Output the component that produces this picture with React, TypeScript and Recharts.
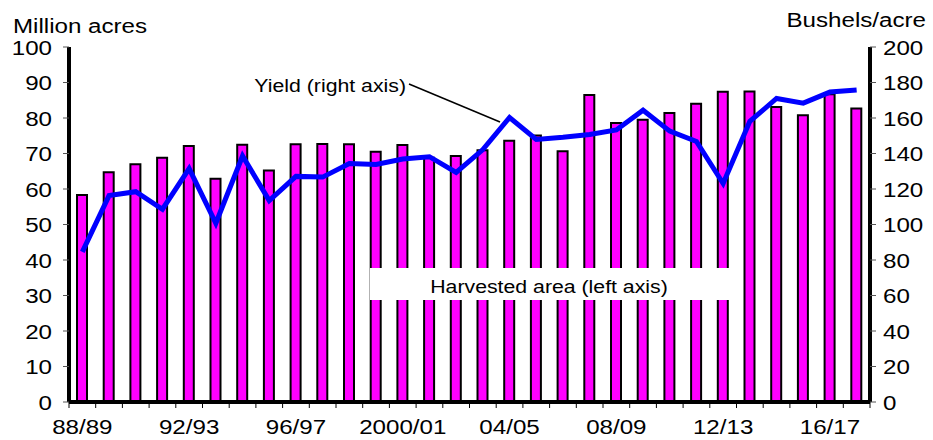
import React from "react";
import { Bar, ComposedChart, Line, XAxis, YAxis } from "recharts";

// Marketing years, every 4th one is labelled on the axis.
const years = [
  "88/89", "89/90", "90/91", "91/92", "92/93", "93/94", "94/95", "95/96",
  "96/97", "97/98", "98/99", "99/00", "2000/01", "01/02", "02/03", "03/04",
  "04/05", "05/06", "06/07", "07/08", "08/09", "09/10", "10/11", "11/12",
  "12/13", "13/14", "14/15", "15/16", "16/17", "17/18",
];

// Harvested area, million acres (left axis)
const harvestedArea = [
  58.3, 64.7, 67.0, 68.8, 72.1, 62.9, 72.5, 65.2, 72.6, 72.7, 72.6, 70.5,
  72.4, 68.8, 69.3, 70.9, 73.6, 75.1, 70.6, 86.5, 78.6, 79.5, 81.4, 84.0,
  87.4, 87.5, 83.1, 80.8, 86.7, 82.7,
];

// Yield, bushels/acre (right axis)
const yieldPerAcre = [
  84.6, 116.3, 118.5, 108.6, 131.5, 100.7, 138.6, 113.5, 127.1, 126.7, 134.4,
  133.8, 136.9, 138.2, 129.3, 142.2, 160.3, 147.9, 149.1, 150.7, 153.3, 164.4,
  152.6, 146.8, 123.1, 158.1, 171.0, 168.4, 174.6, 175.8,
];

const leftTicks = [0, 10, 20, 30, 40, 50, 60, 70, 80, 90, 100];
const rightTicks = [0, 20, 40, 60, 80, 100, 120, 140, 160, 180, 200];

const data = years.map((year, i) => ({
  year,
  area: harvestedArea[i],
  yield: yieldPerAcre[i],
}));

const FONT = "'Liberation Sans', Arial, sans-serif";
const AXIS_FS = 21;
const NOTE_FS = 18.5;
// the original picture is a bit wider than tall, text included
const STRETCH = 1.15;

function Stretched(props: any) {
  const { x, y, anchor = "start", size = AXIS_FS, dy, children } = props;
  return (
    <text
      transform={`translate(${x} ${y}) scale(${STRETCH} 1)`}
      textAnchor={anchor}
      fontSize={size}
      fontFamily={FONT}
      fill="#000"
      dy={dy}
    >
      {children}
    </text>
  );
}

// tick marks sit on the category boundaries, labels under every 4th bar
function YearTick(props: any) {
  const { x, y, payload, index } = props;
  const off = payload && payload.offset ? payload.offset : 13.35;
  const last = index === years.length - 1;
  return (
    <g>
      <line x1={x - off} x2={x - off} y1={y} y2={y + 6} stroke="#000" strokeWidth={1} />
      {last && <line x1={x + off} x2={x + off} y1={y} y2={y + 6} stroke="#000" strokeWidth={1} />}
      {index % 4 === 0 && (
        <Stretched x={x} y={y + 32} anchor="middle">
          {payload.value}
        </Stretched>
      )}
    </g>
  );
}

function ValueTick(props: any) {
  const { x, y, payload, textAnchor } = props;
  return (
    <Stretched x={x} y={y} anchor={textAnchor} dy="0.36em">
      {payload.value}
    </Stretched>
  );
}

export default function App() {
  return (
    <div style={{ position: "absolute", left: 0, top: 0, width: 933, height: 440, background: "#fff" }}>
      <ComposedChart width={933} height={440} data={data} margin={{ top: 47, right: 0, left: 0, bottom: 0 }}>
        <XAxis
          dataKey="year"
          interval={0}
          height={38}
          tickLine={false}
          tickSize={0}
          tickMargin={0}
          axisLine={{ stroke: "#000", strokeWidth: 4 }}
          tick={<YearTick />}
        />
        <XAxis
          xAxisId="top"
          dataKey="year"
          orientation="top"
          height={0}
          tick={false}
          tickLine={false}
          axisLine={{ stroke: "#000", strokeWidth: 4 }}
        />
        <YAxis
          yAxisId="left"
          domain={[0, 100]}
          ticks={leftTicks}
          width={69}
          tickSize={6}
          tickMargin={11}
          tick={<ValueTick />}
          tickLine={{ stroke: "#555", strokeWidth: 1 }}
          axisLine={{ stroke: "#000", strokeWidth: 4 }}
        />
        <YAxis
          yAxisId="right"
          orientation="right"
          domain={[0, 200]}
          ticks={rightTicks}
          width={63}
          tickSize={6}
          tickMargin={7}
          tick={<ValueTick />}
          tickLine={{ stroke: "#555", strokeWidth: 1 }}
          axisLine={{ stroke: "#000", strokeWidth: 4 }}
        />
        <Bar
          yAxisId="left"
          dataKey="area"
          fill="#FF00FF"
          stroke="#000"
          strokeWidth={2}
          barSize={10}
          isAnimationActive={false}
        />
        <Line
          yAxisId="right"
          dataKey="yield"
          type="linear"
          stroke="#0000FF"
          strokeWidth={5}
          dot={false}
          activeDot={false}
          isAnimationActive={false}
        />
      </ComposedChart>
      <svg
        width={933}
        height={440}
        style={{ position: "absolute", left: 0, top: 0, pointerEvents: "none" }}
      >
        <Stretched x={13} y={33}>Million acres</Stretched>
        <Stretched x={926} y={27} anchor="end">Bushels/acre</Stretched>
        <Stretched x={406} y={92} anchor="end" size={NOTE_FS}>Yield (right axis)</Stretched>
        <line x1={409} y1={84} x2={500} y2={122} stroke="#000" strokeWidth={1.5} />
        <rect x={370} y={268} width={360} height={32} fill="#fff" />
        <Stretched x={549} y={293} anchor="middle" size={NOTE_FS}>Harvested area (left axis)</Stretched>
      </svg>
    </div>
  );
}
